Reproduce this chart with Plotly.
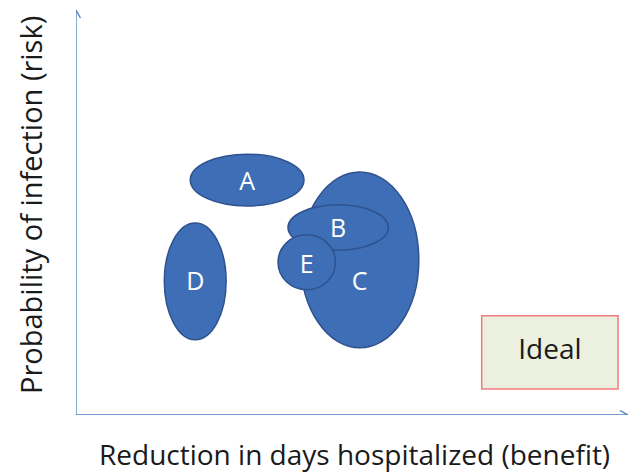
import plotly.graph_objects as go

# ---- data (conceptual units: benefit 0-10, risk 0-10) ----
labels = ["A", "D", "C", "B", "E"]              # drawing order
benefit_center = [3.10, 2.16, 5.14, 4.75, 4.18]
risk_center = [5.80, 3.30, 3.83, 4.63, 3.77]
benefit_halfwidth = [1.03, 0.56, 1.07, 0.91, 0.52]
risk_halfwidth = [0.64, 1.44, 2.17, 0.56, 0.68]
label_benefit = [3.10, 2.16, 5.14, 4.75, 4.18]
label_risk = [5.72, 3.24, 3.24, 4.54, 3.66]

ideal_benefit = [7.35, 9.82]
ideal_risk = [0.64, 2.45]
ideal_label = "Ideal"

x_title = "Reduction in days hospitalized (benefit)"
y_title = "Probability of infection (risk)"

x_range = [0, 10]
y_range = [0, 10]

# ---- layout geometry ----
W, H = 631, 474
ML, MR, MT, MB = 76, 3, 10, 59
PW, PH = W - ML - MR, H - MT - MB
px_x = (x_range[1] - x_range[0]) / PW
px_y = (y_range[1] - y_range[0]) / PH

FONT = "Open Sans, Noto Sans, sans-serif"
FILL = "#3E6FB6"
EDGE = "#2F528F"
AXIS = "#4A7EBB"

fig = go.Figure()

shapes = []
for bx, ry, bw, rh in zip(benefit_center, risk_center, benefit_halfwidth, risk_halfwidth):
    shapes.append(dict(type="circle", xref="x", yref="y",
                       x0=bx - bw, x1=bx + bw, y0=ry - rh, y1=ry + rh,
                       fillcolor=FILL, line=dict(color=EDGE, width=1.5), layer="below"))

shapes.append(dict(type="rect", xref="x", yref="y",
                   x0=ideal_benefit[0], x1=ideal_benefit[1],
                   y0=ideal_risk[0], y1=ideal_risk[1],
                   fillcolor="#EBF1DE", line=dict(color="#F47C80", width=1.5), layer="below"))

# axes with open arrowheads
x0, x1 = x_range
y0, y1 = y_range
shapes.append(dict(type="line", xref="x", yref="y", x0=x0, y0=y0, x1=x1, y1=y0,
                   line=dict(color=AXIS, width=1.3)))
shapes.append(dict(type="line", xref="x", yref="y", x0=x0, y0=y0, x1=x0, y1=y1,
                   line=dict(color=AXIS, width=1.3)))
al, aw = 8, 4.5
shapes.append(dict(type="path", xref="x", yref="y",
                   path=f"M {x1 - al*px_x} {y0 + aw*px_y} L {x1} {y0} L {x1 - al*px_x} {y0 - aw*px_y}",
                   line=dict(color=AXIS, width=1.3)))
shapes.append(dict(type="path", xref="x", yref="y",
                   path=f"M {x0 - aw*px_x} {y1 - al*px_y} L {x0} {y1} L {x0 + aw*px_x} {y1 - al*px_y}",
                   line=dict(color=AXIS, width=1.3)))

fig.add_trace(go.Scatter(x=label_benefit, y=label_risk, mode="text", text=labels,
                         textfont=dict(family=FONT, size=25, color="white"),
                         hoverinfo="skip", showlegend=False))
fig.add_trace(go.Scatter(x=[sum(ideal_benefit) / 2], y=[sum(ideal_risk) / 2], mode="text",
                         text=[ideal_label],
                         textfont=dict(family=FONT, size=28, color="#1a1a1a"),
                         hoverinfo="skip", showlegend=False))

annotations = [
    dict(text=x_title, xref="paper", yref="paper", x=0, y=0,
         xshift=(354.5 - ML), yshift=-(454 - (H - MB)),
         xanchor="center", yanchor="middle", showarrow=False,
         font=dict(family=FONT, size=28, color="#1a1a1a")),
    dict(text=y_title, xref="paper", yref="paper", x=0, y=0,
         xshift=(30 - ML), yshift=((H - MB) - 205),
         xanchor="center", yanchor="middle", showarrow=False, textangle=-90,
         font=dict(family=FONT, size=29, color="#1a1a1a")),
]

fig.update_layout(
    width=W, height=H,
    margin=dict(l=ML, r=MR, t=MT, b=MB),
    paper_bgcolor="white", plot_bgcolor="white",
    xaxis=dict(range=x_range, visible=False, fixedrange=True),
    yaxis=dict(range=y_range, visible=False, fixedrange=True),
    shapes=shapes, annotations=annotations, showlegend=False,
)
fig.update_traces(cliponaxis=False)

fig.write_html("out.html", config={"displayModeBar": False},
               post_script="document.body.style.margin='0';document.body.style.overflow='hidden';")
